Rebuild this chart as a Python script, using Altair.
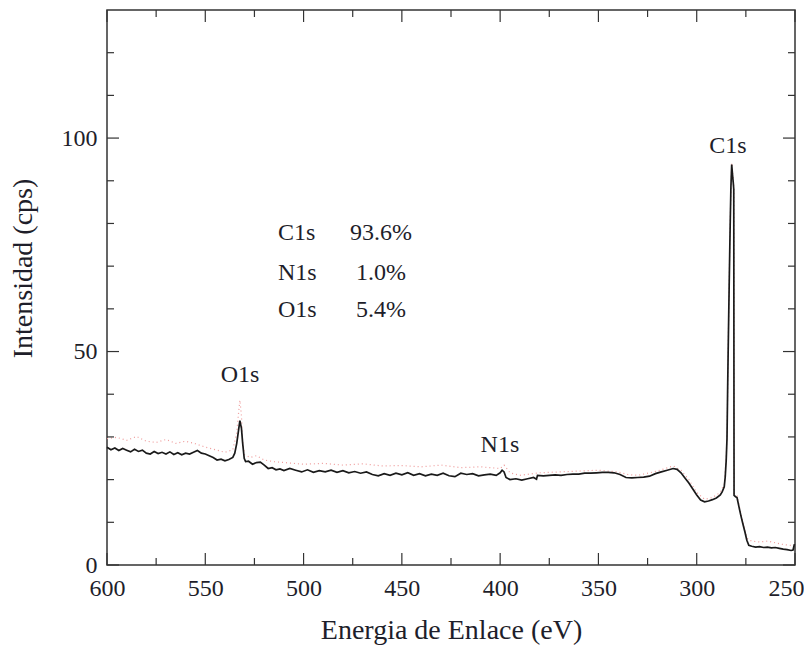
import altair as alt
import pandas as pd

# ---- spectrum (black, measured) ----
energy = [600, 598, 596, 594, 592, 590, 588, 586, 584, 582, 580, 578, 576, 574, 572, 570, 568, 566, 564, 562,
          560, 558, 556, 554, 552, 550, 548, 546, 544, 542, 540, 538, 536, 535, 534, 533, 532.4, 531.6, 531, 530.2,
          529.5, 528, 526, 524, 522, 520, 518, 516, 514, 512, 510, 507, 504, 501, 498, 495, 492, 489, 486, 483,
          480, 477, 474, 471, 468, 465, 462, 459, 456, 453, 450, 447, 444, 441, 438, 435, 432, 429, 426, 423,
          420, 417, 414, 411, 408, 405, 402, 400, 399, 398, 397, 395, 392, 389, 386, 383, 381.5, 381, 378, 375,
          372, 369, 366, 363, 360, 357, 354, 351, 348, 345, 342, 339, 336, 333, 330, 327, 324, 321, 318, 315,
          312, 310, 308, 306, 304, 302, 300, 298, 296, 294, 292, 290, 288, 287, 286, 285.5, 285, 284.6, 284.3, 284.0,
          283.5, 283.0, 282.6, 282.2, 281.8, 281.4, 281.15, 281.0, 280.2, 279.5, 278.5, 277.5, 276.5, 275.5, 274.5, 273.5,
          272, 270, 268, 266, 264, 262, 260, 258, 256, 254, 252, 251, 250.3]
intensity = [27.6, 27.0, 27.4, 26.8, 27.3, 26.9, 26.5, 27.1, 26.6, 26.9, 26.2, 26.0, 26.6, 26.1, 26.4, 26.0, 26.5, 25.9, 26.3, 25.8,
             26.2, 26.0, 26.4, 26.8, 26.2, 26.0, 25.6, 25.2, 24.6, 24.8, 24.4, 24.7, 25.2, 26.2, 28.5, 31.8, 33.8, 32.0, 28.6, 25.0,
             24.2, 24.3, 23.6, 24.0, 24.1, 23.4, 22.6, 22.8, 22.3, 22.5, 22.1, 22.6, 22.2, 21.8, 22.3, 21.7, 22.1, 21.8, 22.2, 21.7,
             22.1, 21.6, 21.9, 21.5, 21.8, 21.2, 20.9, 21.4, 21.0, 21.5, 21.1, 21.6, 21.0, 21.4, 20.9, 21.3, 21.0, 21.5, 20.9, 20.7,
             21.5, 21.2, 21.4, 20.9, 21.1, 21.3, 21.0, 21.6, 22.2, 21.8, 20.5, 20.0, 20.2, 19.9, 20.2, 20.5, 20.1, 21.0, 20.9, 21.0,
             21.1, 21.0, 21.2, 21.3, 21.3, 21.5, 21.5, 21.6, 21.7, 21.7, 21.6, 21.2, 20.5, 20.4, 20.5, 20.6, 20.8, 21.4, 21.8, 22.2,
             22.6, 22.4, 21.6, 20.4, 19.2, 17.8, 16.4, 15.2, 14.8, 15.0, 15.3, 15.7, 16.4, 17.2, 18.3, 20.6, 24.5, 29.5, 40.0, 50.0,
             65.0, 79.0, 88.5, 93.8, 91.5, 89.5, 88.0, 16.3, 16.0, 15.8, 13.6, 11.5, 9.6, 7.8, 5.8, 4.6,
             4.4, 4.2, 4.3, 4.1, 4.2, 4.0, 4.1, 3.9, 3.7, 3.6, 3.4, 3.5, 4.9]

# ---- second spectrum (red dotted) ----
energy_b = [600, 595, 590, 585, 580, 575, 570, 565, 560, 555, 550, 545, 540, 536, 534, 533, 532.4, 531.6, 531, 530,
            527, 524, 520, 515, 510, 500, 490, 480, 470, 460, 450, 440, 430, 420, 410, 400, 398, 395, 390, 385,
            380, 370, 360, 350, 340, 335, 330, 320, 312, 308, 304, 300, 296, 292, 288, 286, 285, 284.5, 284, 283,
            282.2, 281.4, 281.1, 281.0, 279.5, 277.5, 275.5, 274, 272, 268, 264, 260, 256, 252, 250]
intensity_b = [29.6, 29.9, 29.2, 30.1, 29.0, 28.7, 29.4, 28.5, 29.0, 28.4, 27.6, 27.0, 26.4, 27.0, 31.0, 36.0, 38.6, 35.0, 29.0, 25.8,
               25.2, 25.6, 24.6, 24.2, 24.0, 23.6, 23.8, 23.4, 23.7, 23.2, 23.3, 23.0, 23.4, 22.8, 23.0, 22.6, 23.4, 21.6, 21.0, 21.3,
               21.6, 21.8, 22.0, 22.2, 21.8, 21.2, 21.0, 22.0, 23.2, 22.2, 20.0, 17.0, 15.4, 15.8, 17.0, 19.0, 25.0, 32.0, 51.0, 80.0,
               94.2, 90.0, 88.5, 16.8, 16.2, 12.0, 8.2, 6.0, 5.6, 5.4, 5.6, 5.2, 4.8, 4.6, 4.6]

# ---- axis ticks ----
x_major = [600, 550, 500, 450, 400, 350, 300, 250]
x_minor = [575, 525, 475, 425, 375, 325, 275]
y_major = [0, 50, 100]
y_minor = [10, 20, 30, 40, 60, 70, 80, 90, 110, 120]

# ---- annotations ----
peak_labels = ["O1s", "N1s", "C1s"]
peak_x = [532.3, 400.1, 284.1]
peak_y = [44.4, 28.0, 98.1]

comp_names = ["C1s", "N1s", "O1s"]
comp_pcts = ["93.6%", "1.0%", "5.4%"]
comp_y = [77.8, 68.5, 59.8]
comp_name_x = 513
comp_pct_x = 460.6

FONT = "Liberation Serif"
TXT = "#1e1e2a"
W, H = 688, 555

xs = alt.Scale(domain=[600, 250], nice=False, zero=False)
ys = alt.Scale(domain=[0, 130], nice=False, zero=False)

df_a = pd.DataFrame({"E": energy, "I": intensity, "o": range(len(energy))})
df_b = pd.DataFrame({"E": energy_b, "I": intensity_b, "o": range(len(energy_b))})

x_axis = alt.Axis(values=x_major, domain=False, ticks=False, grid=False, labelPadding=11,
                  labelFontSize=24, labelFont=FONT, labelColor=TXT, title="Energia de Enlace (eV)",
                  titleFont=FONT, titleFontSize=28, titleFontWeight="normal", titleColor=TXT,
                  titleY=65, titleBaseline="middle",
                  format="d", labelFlush=False,
                  labelAlign=alt.expr("datum.value == 250 ? 'right' : 'center'"),
                  labelOffset=alt.expr("datum.value == 250 ? 9 : 0"))
y_axis = alt.Axis(values=y_major, domain=False, ticks=False, grid=False, labelPadding=10,
                  labelFontSize=24, labelFont=FONT, labelColor=TXT, title="Intensidad (cps)",
                  titleFont=FONT, titleFontSize=28, titleFontWeight="normal", titleColor=TXT,
                  titleX=-84, titleY=258, titleBaseline="middle", titleAlign="center", titleAngle=270,
                  format="d")

red = alt.Chart(df_b).mark_line(color="#ee9a9a", strokeWidth=1.2, strokeDash=[1, 3]).encode(
    x=alt.X("E:Q", scale=xs, axis=x_axis),
    y=alt.Y("I:Q", scale=ys, axis=y_axis),
    order="o:Q",
)
black = alt.Chart(df_a).mark_line(color="#1a1a1a", strokeWidth=1.7).encode(
    x=alt.X("E:Q", scale=xs),
    y=alt.Y("I:Q", scale=ys),
    order="o:Q",
)

tick_color = "#333333"
dxM = pd.DataFrame({"v": x_major})
dxm = pd.DataFrame({"v": x_minor})
dyM = pd.DataFrame({"v": y_major})
dym = pd.DataFrame({"v": y_minor})

def xticks(df, length):
    bottom = alt.Chart(df).mark_rule(color=tick_color, strokeWidth=1.2).encode(
        x=alt.X("v:Q", scale=xs), y=alt.value(H), y2=alt.value(H - length))
    top = alt.Chart(df).mark_rule(color=tick_color, strokeWidth=1.2).encode(
        x=alt.X("v:Q", scale=xs), y=alt.value(0), y2=alt.value(length))
    return [bottom, top]

def yticks(df, length):
    left = alt.Chart(df).mark_rule(color=tick_color, strokeWidth=1.2).encode(
        y=alt.Y("v:Q", scale=ys), x=alt.value(0), x2=alt.value(length))
    right = alt.Chart(df).mark_rule(color=tick_color, strokeWidth=1.2).encode(
        y=alt.Y("v:Q", scale=ys), x=alt.value(W), x2=alt.value(W - length))
    return [left, right]

ticks = xticks(dxM, 12) + xticks(dxm, 7) + yticks(dyM, 12) + yticks(dym, 7)

df_peaks = pd.DataFrame({"E": peak_x, "I": peak_y, "t": peak_labels})
peaks = alt.Chart(df_peaks).mark_text(font=FONT, fontSize=24, color=TXT, align="center", baseline="middle").encode(
    x=alt.X("E:Q", scale=xs), y=alt.Y("I:Q", scale=ys), text="t:N")

df_comp = pd.DataFrame({"n": comp_names, "p": comp_pcts, "I": comp_y,
                        "xn": [comp_name_x] * 3, "xp": [comp_pct_x] * 3})
comp_n = alt.Chart(df_comp).mark_text(font=FONT, fontSize=24, color=TXT, align="left", baseline="middle").encode(
    x=alt.X("xn:Q", scale=xs), y=alt.Y("I:Q", scale=ys), text="n:N")
comp_p = alt.Chart(df_comp).mark_text(font=FONT, fontSize=24, color=TXT, align="center", baseline="middle").encode(
    x=alt.X("xp:Q", scale=xs), y=alt.Y("I:Q", scale=ys), text="p:N")

chart = alt.layer(red, black, *ticks, peaks, comp_n, comp_p).properties(
    width=W, height=H,
    autosize=alt.AutoSizeParams(type="none"),
    padding={"left": 99, "top": 2, "right": 9, "bottom": 82},
    background="white",
).configure_view(stroke="#333333", strokeWidth=1.5)

chart.save("out.html", embed_options={"renderer": "svg", "actions": False})
